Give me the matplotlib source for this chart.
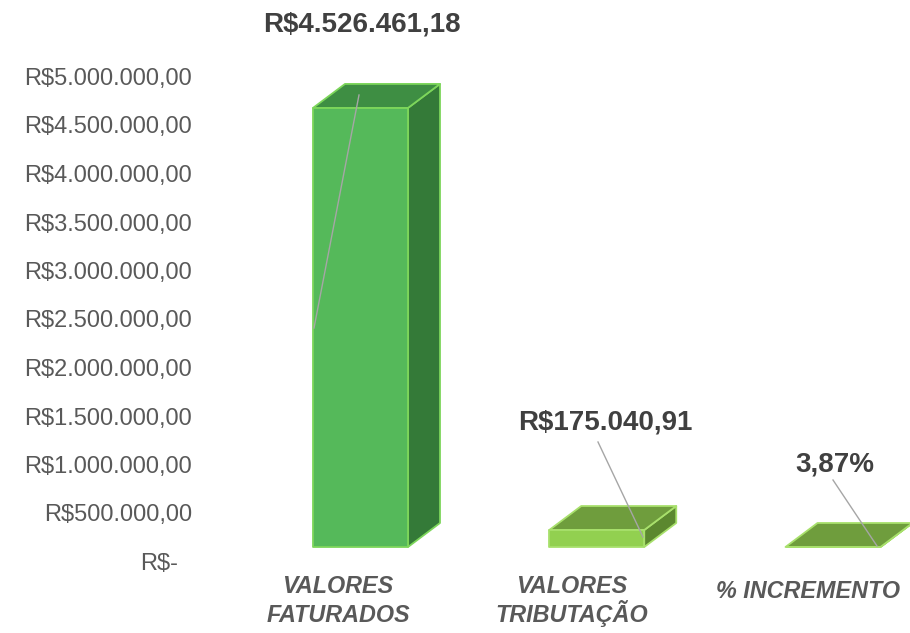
import matplotlib
matplotlib.use("Agg")
import matplotlib.pyplot as plt
from matplotlib.patches import Polygon
from matplotlib.transforms import blended_transform_factory

plt.rcParams['font.family'] = ['Liberation Sans', 'DejaVu Sans']

# data
categories = ["VALORES\nFATURADOS", "VALORES\nTRIBUTAÇÃO", "% INCREMENTO"]
values = [4526461.18, 175040.91, 0.0387]
value_labels = ["R$4.526.461,18", "R$175.040,91", "3,87%"]
ticks = [0, 500000, 1000000, 1500000, 2000000, 2500000,
         3000000, 3500000, 4000000, 4500000, 5000000]


def brl(v):
    if v == 0:
        return "R$-"
    s = f"{v:,.2f}".replace(",", "X").replace(".", ",").replace("X", ".")
    return "R$" + s


tick_labels = [brl(t) for t in ticks]

# styles (front, top, side, edge)
bar_colors = [
    ("#55B95A", "#3E8E43", "#347A38", "#7DD65B"),
    ("#92D050", "#6F9D3D", "#5B882F", "#A8E06C"),
    ("#92D050", "#6F9D3D", "#5B882F", "#A8E06C"),
]

# pixel -> data helpers (layout of the original picture)
X0, XS = 360.5, 236.25      # px of first bar centre, px per category
Y0, YS = 564.0, 9.7e-5      # px of value 0, px per unit


def px(x, y):
    return (x - X0) / XS, (Y0 - y) / YS


fig = plt.figure(figsize=(9.1, 6.33), dpi=100)
ax = fig.add_axes([0, 0, 1, 1])
ax.set_xlim(px(0, 0)[0], px(910, 0)[0])
ax.set_ylim(px(0, 633)[1], px(0, 0)[1])
ax.axis('off')

width = 95 / XS
dx = 32 / XS
dy = 24 / YS
base = 17 / YS

for i, v in enumerate(values):
    front, top, side, edge = bar_colors[i]
    x0 = i - width / 2
    x1 = i + width / 2
    b = base
    t = base + v
    kw = dict(edgecolor=edge, linewidth=1.3, joinstyle='round', clip_on=True)
    ax.add_patch(Polygon([(x1, b), (x1 + dx, b + dy), (x1 + dx, t + dy), (x1, t)],
                         facecolor=side, **kw))
    ax.add_patch(Polygon([(x0, t), (x1, t), (x1 + dx, t + dy), (x0 + dx, t + dy)],
                         facecolor=top, **kw))
    ax.add_patch(Polygon([(x0, b), (x1, b), (x1, t), (x0, t)],
                         facecolor=front, **kw))

# leader lines and data labels
label_pos = [(362, 25), (605, 423), (835, 465)]
leaders = [((359, 95), (314, 328)), ((598, 442), (643, 537)), ((833, 480), (877, 546))]
for lab, (lx, ly), (p0, p1) in zip(value_labels, label_pos, leaders):
    a = px(*p0)
    c = px(*p1)
    ax.plot([a[0], c[0]], [a[1], c[1]], color="#A6A6A6", lw=1.0, zorder=5)
    ax.text(*px(lx, ly), lab, ha='center', va='center', fontsize=20,
            fontweight='bold', color="#404040", zorder=6)

# y tick labels
trans = blended_transform_factory(ax.transAxes, ax.transData)
for t, lab in zip(ticks, tick_labels):
    xr = 192 / 910 if t else 178 / 910
    ax.text(xr, t, lab, transform=trans, ha='right', va='center',
            fontsize=17, color="#595959")

# category labels, one text per line so accents don't shift the rows
cat_pos = [(338, 593), (572, 593), (808, 598)]
for lab, (cx, cy) in zip(categories, cat_pos):
    for k, line in enumerate(lab.split("\n")):
        ax.text(*px(cx, cy + 29 * k), line, ha='center', va='baseline',
                fontsize=16.8, fontweight='bold', fontstyle='italic',
                color="#595959")

fig.savefig("out.png", dpi=100)
